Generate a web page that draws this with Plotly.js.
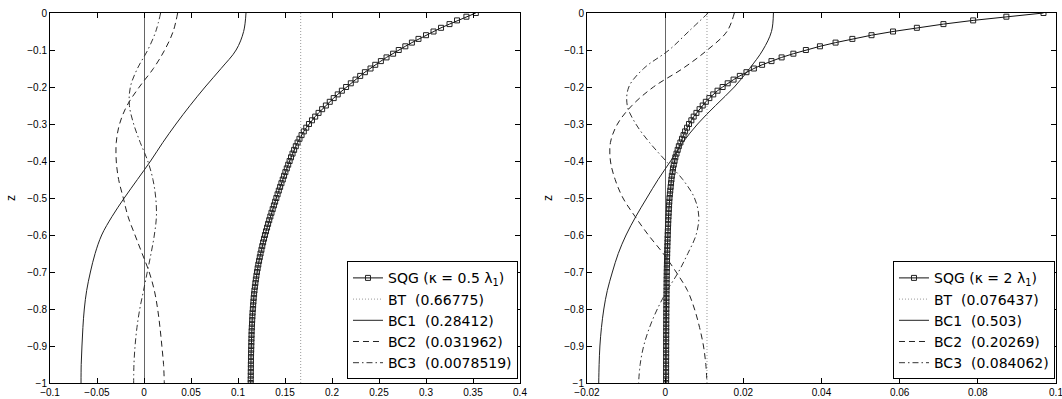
<!DOCTYPE html>
<html>
<head>
<meta charset="utf-8">
<script src="https://cdn.plot.ly/plotly-3.0.1.min.js"></script>
<style>html,body{margin:0;padding:0;background:#fff;}#chart{width:1062px;height:399px;}</style>
</head>
<body>
<div id="chart"></div>
<script>
// depth coordinates
const zFine = [0,-0.01,-0.02,-0.03,-0.04,-0.05,-0.06,-0.07,-0.08,-0.09,
  -0.10,-0.11,-0.12,-0.13,-0.14,-0.15,-0.16,-0.17,-0.18,-0.19,
  -0.20,-0.21,-0.22,-0.23,-0.24,-0.25,-0.26,-0.27,-0.28,-0.29,
  -0.30,-0.31,-0.32,-0.33,-0.34,-0.35,-0.36,-0.37,-0.38,-0.39,
  -0.40,-0.41,-0.42,-0.43,-0.44,-0.45,-0.46,-0.47,-0.48,-0.49,
  -0.50,-0.51,-0.52,-0.53,-0.54,-0.55,-0.56,-0.57,-0.58,-0.59,
  -0.60,-0.61,-0.62,-0.63,-0.64,-0.65,-0.66,-0.67,-0.68,-0.69,
  -0.70,-0.71,-0.72,-0.73,-0.74,-0.75,-0.76,-0.77,-0.78,-0.79,
  -0.80,-0.81,-0.82,-0.83,-0.84,-0.85,-0.86,-0.87,-0.88,-0.89,
  -0.90,-0.91,-0.92,-0.93,-0.94,-0.95,-0.96,-0.97,-0.98,-0.99,-1.00];
const zCoarse = [0,-0.05,-0.10,-0.15,-0.20,-0.25,-0.30,-0.35,-0.40,-0.45,-0.50,
  -0.55,-0.60,-0.65,-0.70,-0.75,-0.80,-0.85,-0.90,-0.95,-1.00];
const zEnds = [0, -1];

// left panel: kappa = 0.5 lambda_1
const sqgLeft = [0.353,0.343,0.333,0.325,0.316,0.308,0.300,0.292,0.285,0.278,
  0.271,0.265,0.258,0.252,0.246,0.241,0.235,0.230,0.225,0.220,
  0.215,0.2105,0.2061,0.2018,0.1976,0.1935,0.1895,0.1857,0.1821,0.1787,
  0.1755,0.1726,0.1700,0.1676,0.1654,0.1634,0.1615,0.1597,0.1580,0.1564,
  0.1549,0.1534,0.1519,0.1504,0.1490,0.1476,0.1462,0.1448,0.1434,0.1421,
  0.1408,0.1395,0.1382,0.1369,0.1356,0.1344,0.1332,0.1320,0.1309,0.1298,
  0.1287,0.1277,0.1267,0.1258,0.1249,0.1240,0.1232,0.1224,0.1216,0.1209,
  0.1202,0.1196,0.1190,0.1185,0.1180,0.1175,0.1171,0.1167,0.1164,0.1161,
  0.1158,0.1155,0.1153,0.1151,0.1149,0.1147,0.1145,0.1144,0.1143,0.1142,
  0.1141,0.1140,0.1139,0.1138,0.1138,0.1137,0.1137,0.1136,0.1136,0.1135,0.1135];
const btLeft = [0.1667, 0.1667];
const bc1Left = [0.1085,0.106,0.098,0.082,0.065,0.049,0.034,0.020,0.007,-0.007,-0.021,
  -0.034,-0.045,-0.052,-0.057,-0.061,-0.0635,-0.065,-0.066,-0.0668,-0.067];
const bc2Left = [0.0358,0.031,0.022,0.010,-0.005,-0.018,-0.026,-0.0295,-0.0295,-0.027,-0.022,
  -0.017,-0.0096,-0.002,0.0055,0.011,0.0145,0.017,0.019,0.0208,0.0216];
const bc3Left = [0.0177,0.0125,0.004,-0.007,-0.0145,-0.0155,-0.011,-0.004,0.004,0.0095,0.0125,
  0.0132,0.011,0.0075,0.0035,-0.0005,-0.0045,-0.0075,-0.0095,-0.0107,-0.011];

// right panel: kappa = 2 lambda_1
const sqgRight = [0.0968,0.0873,0.0788,0.0712,0.0644,0.0583,0.0528,0.0479,0.0436,0.0396,
  0.0360,0.0328,0.0298,0.0272,0.0248,0.0227,0.0208,0.0191,0.0175,0.0160,
  0.0147,0.0134,0.0123,0.0113,0.0104,0.0096,0.0088,0.0080,0.0073,0.0067,
  0.0061,0.0056,0.0051,0.0047,0.0043,0.0039,0.0035,0.0032,0.0029,0.0026,
  0.0024,0.0022,0.0020,0.0019,0.0017,0.0016,0.0015,0.0014,0.0013,0.0012,
  0.0011,0.00105,0.0010,0.00095,0.0009,0.00085,0.0008,0.00076,0.00072,0.00068,
  0.00065,0.00062,0.00059,0.00056,0.00053,0.00051,0.00049,0.00047,0.00045,0.00043,
  0.00041,0.0004,0.00038,0.00037,0.00036,0.00035,0.00034,0.00033,0.00032,0.00031,
  0.0003,0.00029,0.00029,0.00028,0.00028,0.00027,0.00027,0.00026,0.00026,0.00026,
  0.00025,0.00025,0.00025,0.00025,0.00024,0.00024,0.00024,0.00024,0.00024,0.00024,0.00024];
const btRight = [0.0107, 0.0107];
const bc1Right = [0.0277,0.0272,0.0250,0.0216,0.0177,0.0129,0.0083,0.0045,0.0014,-0.0018,-0.0047,
  -0.0075,-0.0100,-0.0120,-0.0135,-0.0148,-0.0157,-0.0163,-0.0167,-0.0169,-0.0170];
const bc2Right = [0.0177,0.0158,0.0108,0.0045,-0.0030,-0.0085,-0.0122,-0.0140,-0.0140,-0.0128,-0.0108,
  -0.0077,-0.0043,-0.0005,0.0028,0.0057,0.0075,0.0088,0.0098,0.0104,0.0107];
const bc3Right = [0.0110,0.0060,0.0010,-0.0055,-0.0093,-0.0097,-0.0075,-0.0040,0.0002,0.0045,0.0075,
  0.0086,0.0079,0.0058,0.0034,0.0005,-0.0020,-0.0040,-0.0055,-0.0064,-0.0068];

const namesLeft = ['SQG (\u03BA = 0.5 \u03BB<sub>1</sub>)', 'BT\u00A0 (0.66775)', 'BC1\u00A0 (0.28412)', 'BC2\u00A0 (0.031962)', 'BC3\u00A0 (0.0078519)'];
const namesRight = ['SQG (\u03BA = 2 \u03BB<sub>1</sub>)', 'BT\u00A0 (0.076437)', 'BC1\u00A0 (0.503)', 'BC2\u00A0 (0.20269)', 'BC3\u00A0 (0.084062)'];

function panel(xa, ya, leg, names, sqg, bt, bc1, bc2, bc3) {
  return [
    {x: sqg, y: zFine, xaxis: xa, yaxis: ya, legend: leg, name: names[0], mode: 'lines+markers',
     line: {color: '#111', width: 1}, marker: {symbol: 'square-open', size: 5, color: '#222', line: {width: 1}}},
    {x: bt, y: zEnds, xaxis: xa, yaxis: ya, legend: leg, name: names[1], mode: 'lines',
     line: {color: '#999', width: 1, dash: '1px,2px'}},
    {x: bc1, y: zCoarse, xaxis: xa, yaxis: ya, legend: leg, name: names[2], mode: 'lines',
     line: {color: '#222', width: 1, shape: 'spline'}},
    {x: bc2, y: zCoarse, xaxis: xa, yaxis: ya, legend: leg, name: names[3], mode: 'lines',
     line: {color: '#222', width: 1, shape: 'spline', dash: '6px,4px'}},
    {x: bc3, y: zCoarse, xaxis: xa, yaxis: ya, legend: leg, name: names[4], mode: 'lines',
     line: {color: '#333', width: 1, shape: 'spline', dash: '6px,3px,1.5px,3px'}}
  ];
}

const data = panel('x', 'y', 'legend', namesLeft, sqgLeft, btLeft, bc1Left, bc2Left, bc3Left)
  .concat(panel('x2', 'y2', 'legend2', namesRight, sqgRight, btRight, bc1Right, bc2Right, bc3Right));

const tickFont = {family: 'Liberation Sans, Arial, sans-serif', size: 10, color: '#000'};
function xAxis(dom, range, dtick, anchor) {
  return {domain: dom, range: range, dtick: dtick, tick0: range[0], anchor: anchor,
    ticks: 'inside', ticklen: 5, tickcolor: '#000', showline: true, linecolor: '#000', linewidth: 1,
    mirror: 'ticks', showgrid: false, zeroline: true, zerolinecolor: '#666', zerolinewidth: 1,
    tickfont: tickFont, ticklabeloverflow: 'allow', fixedrange: true};
}
function yAxis(anchor) {
  return {range: [-1, 0], dtick: 0.1, tick0: 0, anchor: anchor,
    ticks: 'inside', ticklen: 5, tickcolor: '#000', showline: true, linecolor: '#000', linewidth: 1,
    mirror: 'ticks', showgrid: false, zeroline: false, tickfont: tickFont,
    title: {text: 'z', font: {family: 'Liberation Sans, Arial, sans-serif', size: 12, color: '#000'}, standoff: 9},
    fixedrange: true};
}
const legFont = {family: 'DejaVu Sans, sans-serif', size: 14, color: '#000'};
function legendBox(xr) {
  return {x: xr, y: 0.01, xanchor: 'right', yanchor: 'bottom', bgcolor: '#fff',
    bordercolor: '#000', borderwidth: 1, font: legFont};
}
const layout = {
  width: 1062, height: 399,
  margin: {l: 50, r: 6, t: 13, b: 16},
  paper_bgcolor: '#fff', plot_bgcolor: '#fff',
  showlegend: true,
  xaxis: xAxis([0, 0.4672], [-0.1, 0.4], 0.05, 'y'),
  yaxis: yAxis('x'),
  xaxis2: xAxis([0.5338, 1.0], [-0.02, 0.1], 0.02, 'y2'),
  yaxis2: yAxis('x2'),
  legend: legendBox(0.4652),
  legend2: legendBox(0.999)
};
Plotly.newPlot('chart', data, layout, {staticPlot: true, displayModeBar: false});
</script>
</body>
</html>
